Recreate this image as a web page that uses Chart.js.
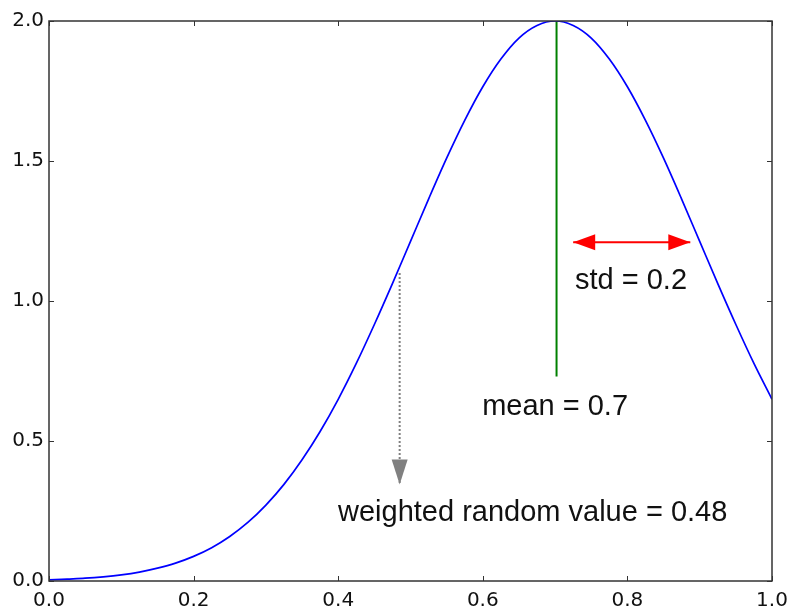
<!DOCTYPE html>
<html>
<head>
<meta charset="utf-8">
<script src="https://cdn.jsdelivr.net/npm/chart.js@4.4.1/dist/chart.umd.min.js"></script>
<style>
  html, body { margin: 0; padding: 0; background: #fff; }
  #wrap { width: 790px; height: 606px; }
</style>
</head>
<body>
<div id="wrap"><canvas id="chart" width="790" height="606"></canvas></div>
<script>
// curve, x every 0.025
const xs = [0, 0.025, 0.05, 0.075, 0.1, 0.125, 0.15, 0.175, 0.2, 0.225, 0.25, 0.275, 0.3, 0.325, 0.35, 0.375,
  0.4, 0.425, 0.45, 0.475, 0.5, 0.525, 0.55, 0.575, 0.6, 0.625, 0.65, 0.675, 0.7, 0.725, 0.75, 0.775,
  0.8, 0.825, 0.85, 0.875, 0.9, 0.925, 0.95, 0.975, 1.0];
const ys = [0.004, 0.007, 0.010, 0.015, 0.022, 0.032, 0.046, 0.064, 0.088, 0.119, 0.159, 0.209, 0.271, 0.345, 0.433, 0.534,
  0.649, 0.777, 0.916, 1.062, 1.213, 1.364, 1.510, 1.645, 1.765, 1.864, 1.939, 1.984, 2.0, 1.984, 1.939, 1.864,
  1.765, 1.645, 1.510, 1.364, 1.213, 1.062, 0.916, 0.777, 0.649];

const xTicks = [0, 0.2, 0.4, 0.6, 0.8, 1.0];
const yTicks = [0, 0.5, 1.0, 1.5, 2.0];

// mean marker, std arrow, sampled value arrow
const meanLine = [{ x: 0.702, y: 0.73 }, { x: 0.702, y: 2.0 }];
const stdArrow = [{ x: 0.725, y: 1.21 }, { x: 0.887, y: 1.21 }];
const sampleArrow = [{ x: 0.485, y: 1.10 }, { x: 0.485, y: 0.345 }];

const labelText = ['std = 0.2', 'mean = 0.7', 'weighted random value = 0.48'];
const labelX = [0.805, 0.70, 0.669];
const labelY = [1.07, 0.62, 0.243];

const ctx = document.getElementById('chart').getContext('2d');

function arrowHead(c, tipX, tipY, dirX, dirY, len, half, color) {
  const bx = tipX - dirX * len, by = tipY - dirY * len;
  c.beginPath();
  c.moveTo(tipX, tipY);
  c.lineTo(bx - dirY * half, by + dirX * half);
  c.lineTo(bx + dirY * half, by - dirX * half);
  c.closePath();
  c.fillStyle = color;
  c.fill();
}

const extras = {
  id: 'extras',
  afterDatasetsDraw(chart) {
    const c = chart.ctx;
    const xs_ = chart.scales.x, ys_ = chart.scales.y;
    const a = chart.chartArea;
    c.save();

    // arrow heads
    const sx1 = xs_.getPixelForValue(stdArrow[0].x), sx2 = xs_.getPixelForValue(stdArrow[1].x);
    const sy = ys_.getPixelForValue(stdArrow[0].y);
    arrowHead(c, sx1, sy, -1, 0, 22, 8, '#ff0000');
    arrowHead(c, sx2, sy, 1, 0, 22, 8, '#ff0000');
    const gx = xs_.getPixelForValue(sampleArrow[1].x), gy = ys_.getPixelForValue(sampleArrow[1].y);
    arrowHead(c, gx, gy, 0, 1, 25, 8, '#808080');

    // text
    c.fillStyle = '#111';
    c.font = '29px "Liberation Sans", Arial, sans-serif';
    c.textAlign = 'center';
    c.textBaseline = 'middle';
    labelText.forEach((t, i) => {
      c.fillText(t, xs_.getPixelForValue(labelX[i]), ys_.getPixelForValue(labelY[i]));
    });

    // frame and inward ticks
    c.strokeStyle = '#333';
    c.lineWidth = 1.5;
    c.strokeRect(a.left, a.top, a.right - a.left, a.bottom - a.top);
    c.lineWidth = 1;
    c.beginPath();
    xTicks.forEach(v => {
      const p = Math.round(xs_.getPixelForValue(v)) + 0.5;
      c.moveTo(p, a.bottom); c.lineTo(p, a.bottom - 5);
      c.moveTo(p, a.top); c.lineTo(p, a.top + 5);
    });
    yTicks.forEach(v => {
      const p = Math.round(ys_.getPixelForValue(v)) + 0.5;
      c.moveTo(a.left, p); c.lineTo(a.left + 5, p);
      c.moveTo(a.right, p); c.lineTo(a.right - 5, p);
    });
    c.stroke();
    c.restore();
  }
};

const tickFont = { family: '"DejaVu Sans", sans-serif', size: 20 };

new Chart(ctx, {
  type: 'line',
  data: {
    datasets: [
      {
        data: xs.map((x, i) => ({ x, y: ys[i] })),
        borderColor: '#0000ff',
        borderWidth: 1.7,
        pointRadius: 0,
        cubicInterpolationMode: 'monotone'
      },
      {
        data: meanLine,
        borderColor: '#008000',
        borderWidth: 2,
        pointRadius: 0
      },
      {
        data: stdArrow,
        borderColor: '#ff0000',
        borderWidth: 2,
        pointRadius: 0
      },
      {
        data: sampleArrow,
        borderColor: '#808080',
        borderWidth: 2,
        borderDash: [2, 2],
        pointRadius: 0
      }
    ]
  },
  options: {
    responsive: false,
    animation: false,
    events: [],
    layout: { padding: { top: 21, right: 18, left: 0, bottom: 0 } },
    plugins: {
      legend: { display: false },
      tooltip: { enabled: false }
    },
    scales: {
      x: {
        type: 'linear',
        min: 0,
        max: 1,
        grid: { display: false, drawTicks: false },
        border: { display: false },
        ticks: {
          stepSize: 0.2,
          color: '#111',
          font: { family: '"DejaVu Sans", sans-serif', size: 20, lineHeight: 1.35 },
          padding: 6,
          maxRotation: 0,
          autoSkip: false,
          callback: v => v.toFixed(1)
        },
        afterFit: s => { s.height = 25; s.paddingLeft = 0; s.paddingRight = 0; }
      },
      y: {
        min: 0,
        max: 2,
        grid: { display: false, drawTicks: false },
        border: { display: false },
        ticks: {
          stepSize: 0.5,
          color: '#111',
          font: tickFont,
          padding: 5,
          callback: v => v.toFixed(1)
        },
        afterFit: s => { s.width = 49; s.paddingTop = 0; s.paddingBottom = 0; }
      }
    }
  },
  plugins: [extras]
});
</script>
</body>
</html>
